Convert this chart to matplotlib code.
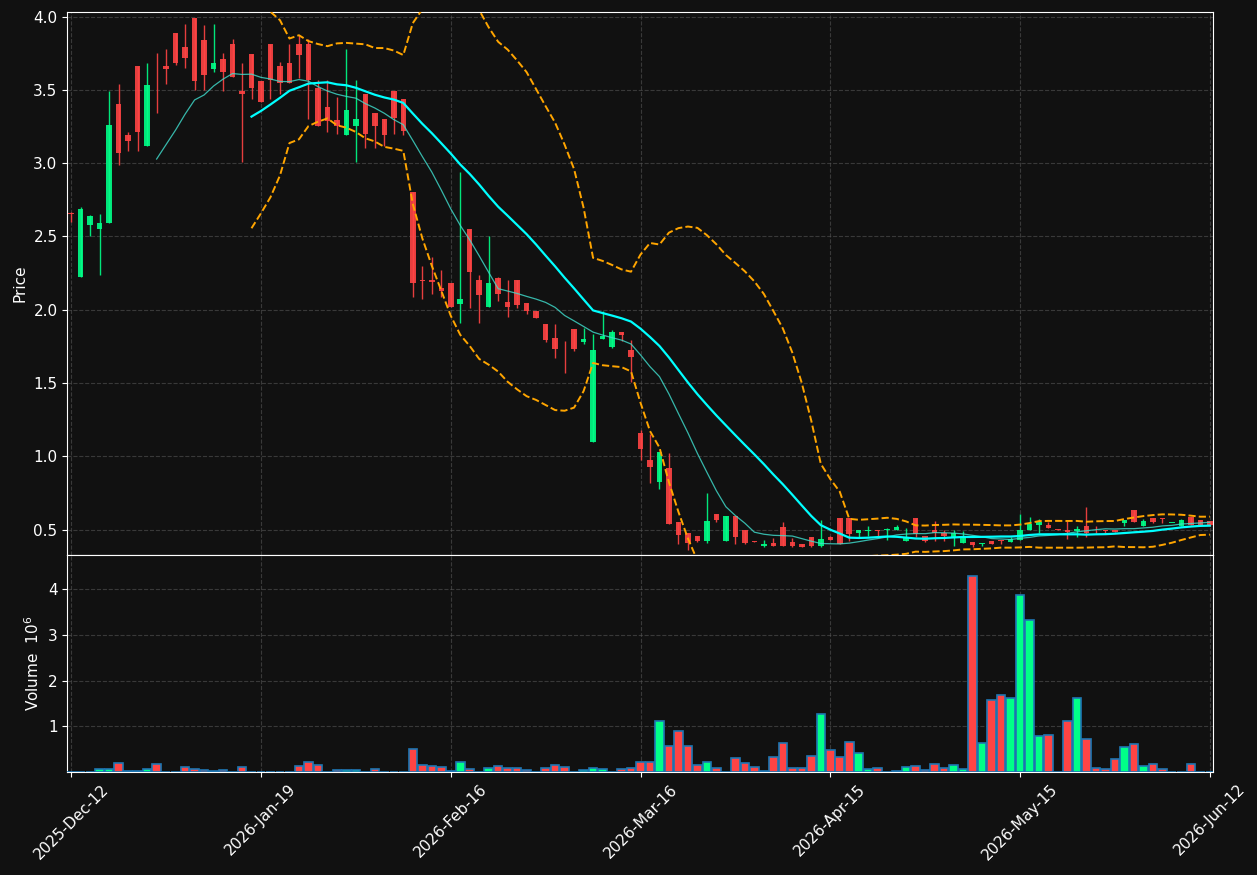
import numpy as np
import pandas as pd
import matplotlib
matplotlib.use("Agg")
import matplotlib.pyplot as plt

# daily OHLC + volume (millions)
opens = [2.66, 2.22, 2.58, 2.55, 2.59, 3.40, 3.19, 3.66, 3.12, 3.495,
         3.66, 3.89, 3.79, 3.99, 3.84, 3.64, 3.71, 3.81, 3.49, 3.745,
         3.56, 3.81, 3.66, 3.68, 3.81, 3.81, 3.51, 3.38, 3.295, 3.19,
         3.25, 3.47, 3.34, 3.30, 3.49, 3.44, 2.80, 2.20, 2.20, 2.145,
         2.18, 2.04, 2.55, 2.20, 2.02, 2.215, 2.05, 2.20, 2.045, 1.99,
         1.90, 1.81, 1.71, 1.87, 1.78, 1.10, 1.80, 1.745, 1.85, 1.725,
         1.16, 0.975, 0.827, 0.92, 0.55, 0.48, 0.457, 0.42, 0.605, 0.42,
         0.59, 0.50, 0.42, 0.39, 0.41, 0.52, 0.415, 0.40, 0.45, 0.39,
         0.45, 0.58, 0.58, 0.475, 0.49, 0.50, 0.495, 0.50, 0.42, 0.58,
         0.457, 0.50, 0.475, 0.452, 0.41, 0.415, 0.402, 0.42, 0.43, 0.416,
         0.43, 0.50, 0.53, 0.53, 0.502, 0.50, 0.49, 0.525, 0.497, 0.50,
         0.50, 0.545, 0.635, 0.525, 0.58, 0.58, 0.545, 0.527, 0.585, 0.566,
         0.56]
highs = [2.665, 2.70, 2.645, 2.65, 3.49, 3.54, 3.21, 3.66, 3.68, 3.75,
         3.78, 3.89, 3.95, 3.99, 3.94, 3.95, 3.75, 3.85, 3.68, 3.745,
         3.56, 3.81, 3.69, 3.81, 3.875, 3.85, 3.57, 3.57, 3.45, 3.78,
         3.57, 3.47, 3.34, 3.30, 3.49, 3.44, 2.80, 2.30, 2.36, 2.27,
         2.18, 2.94, 2.55, 2.24, 2.50, 2.22, 2.20, 2.20, 2.045, 1.99,
         1.90, 1.90, 1.79, 1.87, 1.875, 1.835, 1.99, 1.86, 1.85, 1.795,
         1.18, 1.15, 1.03, 1.02, 0.55, 0.48, 0.457, 0.75, 0.61, 0.59,
         0.59, 0.50, 0.42, 0.43, 0.44, 0.55, 0.445, 0.40, 0.45, 0.565,
         0.46, 0.58, 0.58, 0.50, 0.525, 0.50, 0.51, 0.53, 0.51, 0.58,
         0.457, 0.56, 0.50, 0.50, 0.49, 0.415, 0.41, 0.42, 0.43, 0.45,
         0.607, 0.585, 0.57, 0.555, 0.502, 0.56, 0.525, 0.655, 0.525, 0.50,
         0.50, 0.567, 0.635, 0.57, 0.58, 0.58, 0.545, 0.57, 0.585, 0.566,
         0.56]
lows = [2.60, 2.22, 2.50, 2.24, 2.59, 2.99, 3.08, 3.08, 3.12, 3.34,
        3.54, 3.67, 3.65, 3.50, 3.50, 3.62, 3.49, 3.59, 3.01, 3.44,
        3.42, 3.44, 3.47, 3.55, 3.58, 3.30, 3.25, 3.21, 3.20, 3.19,
        3.01, 3.10, 3.10, 3.12, 3.20, 3.19, 2.09, 2.07, 2.11, 2.09,
        2.02, 1.91, 2.01, 1.91, 2.02, 2.06, 1.95, 2.01, 1.97, 1.945,
        1.78, 1.67, 1.57, 1.72, 1.765, 1.10, 1.80, 1.74, 1.79, 1.51,
        0.975, 0.82, 0.776, 0.54, 0.405, 0.36, 0.418, 0.41, 0.555, 0.42,
        0.40, 0.405, 0.415, 0.385, 0.39, 0.39, 0.385, 0.38, 0.385, 0.385,
        0.43, 0.40, 0.42, 0.44, 0.46, 0.46, 0.43, 0.50, 0.42, 0.45,
        0.418, 0.42, 0.42, 0.39, 0.41, 0.38, 0.39, 0.40, 0.40, 0.416,
        0.43, 0.50, 0.475, 0.51, 0.50, 0.435, 0.45, 0.45, 0.475, 0.48,
        0.485, 0.525, 0.555, 0.525, 0.545, 0.545, 0.545, 0.527, 0.53, 0.527,
        0.527]
closes = [2.65, 2.69, 2.64, 2.59, 3.26, 3.07, 3.15, 3.21, 3.53, 3.49,
          3.64, 3.68, 3.72, 3.56, 3.60, 3.68, 3.62, 3.59, 3.47, 3.51,
          3.42, 3.57, 3.55, 3.55, 3.74, 3.57, 3.25, 3.29, 3.25, 3.36,
          3.30, 3.20, 3.25, 3.19, 3.31, 3.22, 2.18, 2.195, 2.19, 2.13,
          2.02, 2.07, 2.26, 2.10, 2.18, 2.11, 2.02, 2.03, 1.99, 1.945,
          1.795, 1.73, 1.709, 1.73, 1.80, 1.725, 1.82, 1.85, 1.825, 1.68,
          1.05, 0.93, 1.03, 0.54, 0.465, 0.41, 0.42, 0.56, 0.565, 0.59,
          0.45, 0.41, 0.418, 0.40, 0.39, 0.39, 0.39, 0.385, 0.39, 0.435,
          0.43, 0.40, 0.47, 0.50, 0.50, 0.49, 0.505, 0.52, 0.45, 0.47,
          0.42, 0.475, 0.457, 0.475, 0.445, 0.395, 0.407, 0.40, 0.42, 0.433,
          0.50, 0.54, 0.555, 0.51, 0.50, 0.485, 0.507, 0.475, 0.495, 0.49,
          0.485, 0.565, 0.555, 0.56, 0.55, 0.573, 0.545, 0.566, 0.532, 0.527,
          0.53]
volumes = [0.0, 0.0, 0.0, 0.06, 0.06, 0.19, 0.03, 0.03, 0.06, 0.17,
           0.01, 0.0, 0.10, 0.06, 0.04, 0.03, 0.04, 0.0, 0.10, 0.01,
           0.0, 0.01, 0.01, 0.01, 0.13, 0.23, 0.15, 0.01, 0.04, 0.04,
           0.04, 0.01, 0.06, 0.01, 0.0, 0.0, 0.50, 0.15, 0.125, 0.10,
           0.03, 0.23, 0.06, 0.01, 0.08, 0.125, 0.08, 0.08, 0.04, 0.01,
           0.08, 0.15, 0.10, 0.01, 0.04, 0.08, 0.06, 0.01, 0.06, 0.08,
           0.23, 0.21, 1.11, 0.56, 0.89, 0.58, 0.15, 0.23, 0.08, 0.01,
           0.30, 0.19, 0.10, 0.03, 0.32, 0.63, 0.08, 0.08, 0.34, 1.26,
           0.475, 0.32, 0.65, 0.41, 0.06, 0.08, 0.01, 0.03, 0.10, 0.125,
           0.04, 0.17, 0.08, 0.15, 0.06, 4.30, 0.63, 1.57, 1.68, 1.61,
           3.87, 3.32, 0.78, 0.80, 0.01, 1.11, 1.61, 0.72, 0.08, 0.06,
           0.28, 0.54, 0.61, 0.125, 0.17, 0.06, 0.0, 0.01, 0.17, 0.01,
           0.01]
tick_labels = ['2025-Dec-12', '2026-Jan-19', '2026-Feb-16', '2026-Mar-16',
               '2026-Apr-15', '2026-May-15', '2026-Jun-12']

bg = '#111111'
up_col = '#00ff88'
down_col = '#ff4444'

df = pd.DataFrame({'Open': opens, 'High': highs, 'Low': lows,
                   'Close': closes, 'Volume': volumes})
x = np.arange(len(df))
mav10 = df['Close'].rolling(10).mean()
mav20 = df['Close'].rolling(20).mean()
std20 = df['Close'].rolling(20).std(ddof=0)
bb_up = mav20 + 2 * std20
bb_lo = mav20 - 2 * std20

is_up = df['Close'] >= df['Open']
colors = np.where(is_up, up_col, down_col)

fig = plt.figure(figsize=(12.57, 8.75), dpi=100, facecolor=bg)
ax = fig.add_axes([0.0535, 0.3657, 0.9115, 0.6206], facecolor=bg)
axv = fig.add_axes([0.0535, 0.1177, 0.9115, 0.248], facecolor=bg, sharex=ax)

# candles
ax.vlines(x, df['Low'], df['High'], colors=colors, linewidth=1, alpha=0.9, zorder=3)
body_lo = np.minimum(df['Open'], df['Close'])
body_h = np.maximum(np.abs(df['Close'] - df['Open']), 0.004)
ax.bar(x, body_h, bottom=body_lo, width=0.58, color=colors, alpha=0.9,
       linewidth=0, zorder=4)

# moving averages and bollinger bands
ax.plot(x, mav10, color='#40e0d0', linewidth=0.9, alpha=0.8, zorder=5)
ax.plot(x, mav20, color='#00ffff', linewidth=1.6, zorder=5)
ax.plot(x, bb_up, color='#ffa500', linestyle='--', linewidth=1.4, zorder=5)
ax.plot(x, bb_lo, color='#ffa500', linestyle='--', linewidth=1.4, zorder=5)

# volume
axv.bar(x, df['Volume'], width=0.9, color=colors, edgecolor='#1f77b4',
        linewidth=1.2, zorder=3)

ax.set_xlim(-0.42, 120.34)
ax.set_ylim(0.327, 4.031)
axv.set_ylim(0, 4.75)
ax.set_yticks([0.5, 1.0, 1.5, 2.0, 2.5, 3.0, 3.5, 4.0])
axv.set_yticks([1, 2, 3, 4])
axv.set_xticks(np.arange(0, 121, 20))
axv.set_xticklabels(tick_labels, rotation=45, ha='center')
plt.setp(ax.get_xticklabels(), visible=False)

ax.set_ylabel('Price', color='white', fontsize=11)
axv.set_ylabel('Volume  $10^{6}$', color='white', fontsize=11)

for a in (ax, axv):
    a.grid(True, linestyle='--', linewidth=0.8, color='#555555', alpha=0.6)
    a.set_axisbelow(True)
    a.tick_params(colors='white', labelsize=11)
    for s in a.spines.values():
        s.set_color('white')
ax.tick_params(axis='x', length=0)

fig.savefig('out.png', dpi=100, facecolor=bg)
